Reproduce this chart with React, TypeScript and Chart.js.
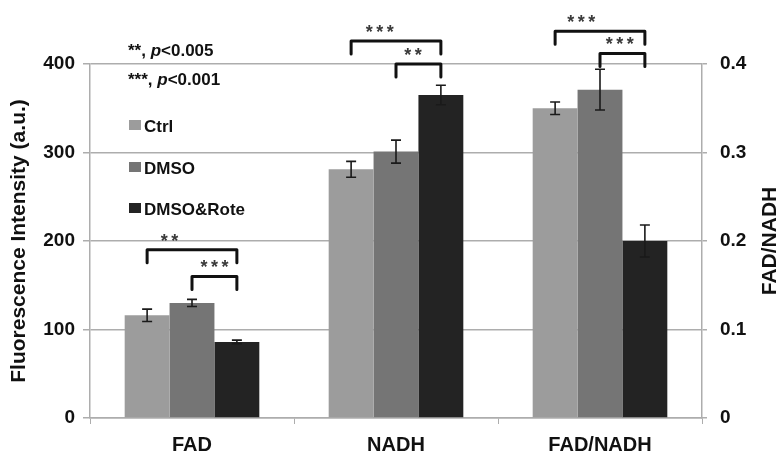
import { useEffect, useRef } from "react";
import { Chart, registerables } from "chart.js";

Chart.register(...registerables);

// ---- data ----
const categories = ["FAD", "NADH", "FAD/NADH"];
const seriesNames = ["Ctrl", "DMSO", "DMSO&Rote"];
// fluorescence intensity (a.u.) for FAD and NADH, left axis
const ctrlIntensity = [116, 281];
const dmsoIntensity = [130, 301];
const roteIntensity = [86, 365];
const ctrlIntensityErr = [7, 9];
const dmsoIntensityErr = [4, 13];
const roteIntensityErr = [2, 11];
// FAD/NADH ratio, right axis (Ctrl, DMSO, DMSO&Rote)
const ratioValues = [0.35, 0.371, 0.2];
const ratioErrors = [0.007, 0.023, 0.018];
// axis ticks
const leftTicks = [0, 100, 200, 300, 400];
const rightTicks = [0, 0.1, 0.2, 0.3, 0.4];
// significance brackets: category, from series, to series, top (left-axis units), label
const bracketCategory = [0, 0, 1, 1, 2, 2];
const bracketFrom = [0, 1, 0, 1, 0, 1];
const bracketTo = [2, 2, 2, 2, 2, 2];
const bracketTop = [190, 160, 426, 400, 437, 412];
const bracketLabel = ["**", "***", "***", "**", "***", "***"];
const significanceNotes = [
  ["**, ", "p", "<0.005"],
  ["***, ", "p", "<0.001"],
];

// ---- styles ----
const FONT = '"Liberation Sans", Arial, Helvetica, sans-serif';
const seriesColors = ["#9c9c9c", "#757575", "#232323"];
const gridColor = "#adadad";
const textColor = "#111111";
const bracketLabelPos = [0.25, 0.5, 0.32, 0.38, 0.29, 0.44];

export default function App() {
  const ref = useRef<HTMLCanvasElement>(null);

  useEffect(() => {
    const canvas = ref.current;
    if (!canvas) return;

    const intensitySets = [ctrlIntensity, dmsoIntensity, roteIntensity];
    const intensityErrs = [ctrlIntensityErr, dmsoIntensityErr, roteIntensityErr];

    const datasets: any[] = [
      ...seriesNames.map((name, i) => ({
        label: name,
        data: [...intensitySets[i], null],
        yAxisID: "y",
        backgroundColor: seriesColors[i],
        borderWidth: 0,
        skipNull: true,
        categoryPercentage: 0.66,
        barPercentage: 1.0,
      })),
      ...seriesNames.map((name, i) => ({
        label: name,
        data: [null, null, ratioValues[i]],
        yAxisID: "y1",
        backgroundColor: seriesColors[i],
        borderWidth: 0,
        skipNull: true,
        categoryPercentage: 0.66,
        barPercentage: 1.0,
      })),
    ];
    const errs: (number | null)[][] = [
      ...intensityErrs.map((e) => [...e, null]),
      ...ratioErrors.map((e) => [null, null, e]),
    ];

    const dsIndex = (cat: number, series: number) => (cat < 2 ? series : 3 + series);

    const overlay = {
      id: "overlay",
      afterDatasetsDraw(chart: any) {
        const ctx = chart.ctx;
        ctx.save();
        ctx.strokeStyle = "#1a1a1a";
        ctx.lineWidth = 1.6;
        errs.forEach((arr, di) => {
          const meta = chart.getDatasetMeta(di);
          const scale = chart.scales[meta.yAxisID];
          arr.forEach((e, j) => {
            if (e == null) return;
            const v = chart.data.datasets[di].data[j] as number;
            const x = meta.data[j].x;
            const yT = scale.getPixelForValue(v + e);
            const yB = scale.getPixelForValue(v - e);
            ctx.beginPath();
            ctx.moveTo(x, yT);
            ctx.lineTo(x, yB);
            ctx.moveTo(x - 5, yT);
            ctx.lineTo(x + 5, yT);
            ctx.moveTo(x - 5, yB);
            ctx.lineTo(x + 5, yB);
            ctx.stroke();
          });
        });
        ctx.restore();
      },
      afterDraw(chart: any) {
        const ctx = chart.ctx;
        const yScale = chart.scales.y;
        const area = chart.chartArea;
        ctx.save();
        // brackets
        bracketCategory.forEach((c, k) => {
          const m1 = chart.getDatasetMeta(dsIndex(c, bracketFrom[k]));
          const m2 = chart.getDatasetMeta(dsIndex(c, bracketTo[k]));
          const x1 = m1.data[c].x;
          const x2 = m2.data[c].x;
          const yT = yScale.getPixelForValue(bracketTop[k]);
          ctx.strokeStyle = "#111";
          ctx.lineWidth = 3;
          ctx.lineJoin = "round";
          ctx.lineCap = "round";
          ctx.beginPath();
          ctx.moveTo(x1, yT + 13);
          ctx.lineTo(x1, yT);
          ctx.lineTo(x2, yT);
          ctx.lineTo(x2, yT + 13);
          ctx.stroke();
          const label = bracketLabel[k];
          const cx = x1 + bracketLabelPos[k] * (x2 - x1);
          ctx.fillStyle = "#3a3a3a";
          ctx.font = `bold 18px ${FONT}`;
          ctx.textAlign = "center";
          ctx.textBaseline = "alphabetic";
          const n = label.length;
          for (let s = 0; s < n; s++) {
            ctx.fillText("*", cx + (s - (n - 1) / 2) * 10.5, yT - 3);
          }
        });
        // significance notes
        ctx.fillStyle = textColor;
        ctx.textAlign = "left";
        ctx.textBaseline = "alphabetic";
        const noteY = [56, 85];
        significanceNotes.forEach((parts, i) => {
          let x = 128;
          parts.forEach((p, pi) => {
            ctx.font = pi === 1 ? `italic bold 17px ${FONT}` : `bold 17px ${FONT}`;
            ctx.fillText(p, x, noteY[i]);
            x += ctx.measureText(p).width;
          });
        });
        // legend
        const legY = [132, 174, 215];
        seriesNames.forEach((name, i) => {
          ctx.fillStyle = seriesColors[i];
          ctx.fillRect(129, legY[i] - 12, 12, 10);
          ctx.fillStyle = textColor;
          ctx.font = `bold 17px ${FONT}`;
          ctx.fillText(name, 144, legY[i]);
        });
        // right axis title (reads bottom to top)
        ctx.translate(770, (area.top + area.bottom) / 2);
        ctx.rotate(-Math.PI / 2);
        ctx.textAlign = "center";
        ctx.textBaseline = "middle";
        ctx.font = `bold 21px ${FONT}`;
        ctx.fillStyle = textColor;
        ctx.fillText("FAD/NADH", 0, 0);
        ctx.restore();
      },
    };

    const chart = new Chart(canvas, {
      type: "bar",
      data: { labels: categories, datasets },
      options: {
        animation: false,
        responsive: true,
        maintainAspectRatio: false,
        layout: { padding: { top: 64, left: 0, right: 0, bottom: 0 } },
        plugins: { legend: { display: false }, tooltip: { enabled: false } },
        scales: {
          x: {
            grid: { drawOnChartArea: false, drawTicks: true, tickLength: 6, color: gridColor, offset: true },
            border: { color: gridColor, width: 1.5 },
            ticks: { color: textColor, font: { family: FONT, size: 20, weight: "bold" }, padding: 9 },
            afterFit: (s: any) => {
              s.height = 37;
            },
          },
          y: {
            position: "left",
            min: leftTicks[0],
            max: leftTicks[leftTicks.length - 1],
            afterBuildTicks: (s: any) => {
              s.ticks = leftTicks.map((v) => ({ value: v }));
            },
            grid: { color: gridColor, lineWidth: 1.5, tickLength: 7 },
            border: { color: gridColor, width: 1.5 },
            ticks: { color: textColor, font: { family: FONT, size: 19, weight: "bold" }, padding: 8 },
            title: {
              display: true,
              text: "Fluorescence Intensity (a.u.)",
              color: textColor,
              font: { family: FONT, size: 21, weight: "bold" },
              padding: { top: 7, bottom: 0 },
            },
            afterFit: (s: any) => {
              s.width = 90;
            },
          },
          y1: {
            position: "right",
            min: rightTicks[0],
            max: rightTicks[rightTicks.length - 1],
            afterBuildTicks: (s: any) => {
              s.ticks = rightTicks.map((v) => ({ value: v }));
            },
            grid: { drawOnChartArea: false, color: gridColor, lineWidth: 1.5, tickLength: 5 },
            border: { color: gridColor, width: 1.5 },
            ticks: {
              color: textColor,
              font: { family: FONT, size: 19, weight: "bold" },
              padding: 13,
              callback: (v: any) => String(Math.round(Number(v) * 10) / 10),
            },
            afterFit: (s: any) => {
              s.width = 79;
            },
          },
        },
      } as any,
      plugins: [overlay],
    });

    return () => chart.destroy();
  }, []);

  return (
    <div style={{ position: "absolute", left: 0, top: 0, width: 781, height: 455, background: "#fff" }}>
      <canvas ref={ref} />
    </div>
  );
}
